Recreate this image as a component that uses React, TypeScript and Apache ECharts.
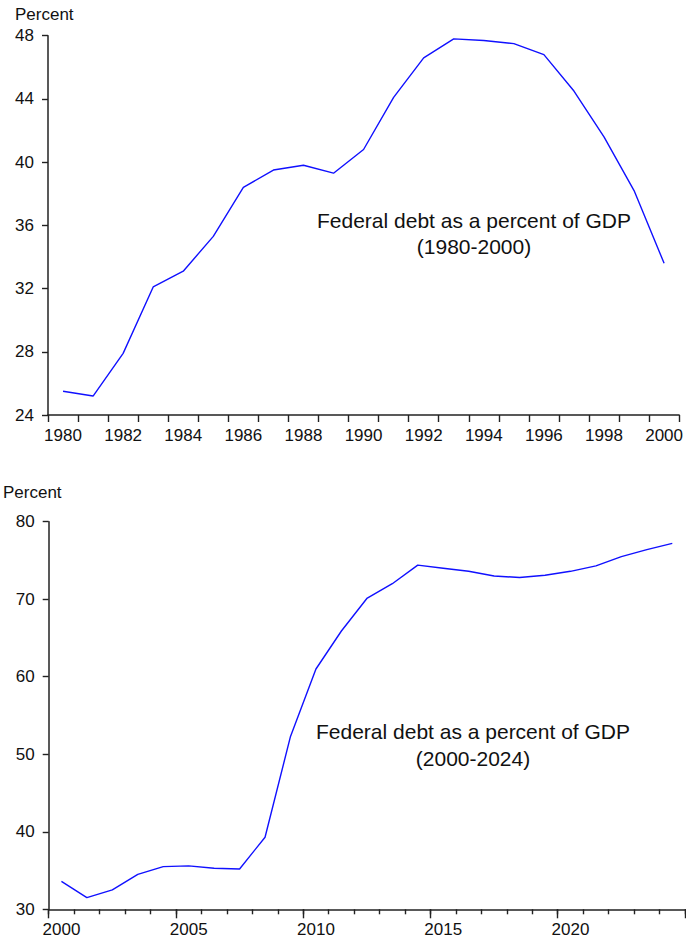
import React, { useEffect, useRef } from "react";
import * as echarts from "echarts";

const years1 = ["1980","1981","1982","1983","1984","1985","1986","1987","1988","1989","1990","1991","1992","1993","1994","1995","1996","1997","1998","1999","2000"];
const debt1 = [25.5,25.2,27.9,32.1,33.1,35.3,38.4,39.5,39.8,39.3,40.8,44.1,46.6,47.8,47.7,47.5,46.8,44.5,41.6,38.2,33.6];

const years2 = ["2000","2001","2002","2003","2004","2005","2006","2007","2008","2009","2010","2011","2012","2013","2014","2015","2016","2017","2018","2019","2020","2021","2022","2023","2024"];
const debt2 = [33.6,31.5,32.5,34.5,35.5,35.6,35.3,35.2,39.3,52.3,61.0,65.9,70.1,72.0,74.4,74.0,73.6,73.0,72.8,73.1,73.6,74.3,75.5,76.4,77.2];

const unitLabel = "Percent";
const note1 = "Federal debt as a percent of GDP\n(1980-2000)";
const note2 = "Federal debt as a percent of GDP\n(2000-2024)";

const FONT = "'Liberation Sans', Arial, sans-serif";
const AX = "#222";

export default function App() {
  const ref = useRef<HTMLDivElement>(null);
  useEffect(() => {
    const chart = echarts.init(ref.current!, null, { renderer: "svg" });
    const axisLabel = { color: "#111", fontSize: 17, fontFamily: FONT };
    chart.setOption({
      animation: false,
      grid: [
        { left: 48, top: 35.7, width: 632, height: 379.3 },
        { left: 48.7, top: 521.7, width: 636.3, height: 387.6 },
      ],
      xAxis: [
        {
          type: "category", gridIndex: 0, data: years1, boundaryGap: true,
          axisLine: { show: true, lineStyle: { color: AX, width: 1.5 } },
          axisTick: { show: true, inside: false, interval: 0, length: 7, lineStyle: { color: AX, width: 1.4 } },
          axisLabel: { ...axisLabel, interval: 1, margin: 12 },
          splitLine: { show: false },
        },
        {
          type: "category", gridIndex: 1, data: years2, boundaryGap: true,
          axisLine: { show: true, lineStyle: { color: AX, width: 1.5 } },
          axisTick: { show: true, inside: false, interval: 4, length: 9, lineStyle: { color: AX, width: 1.4 } },
          axisLabel: { ...axisLabel, interval: 4, margin: 12 },
          splitLine: { show: false },
        },
        {
          type: "category", gridIndex: 1, data: years2, boundaryGap: true, position: "bottom",
          axisLine: { show: false },
          axisTick: { show: true, inside: false, interval: 0, length: 5, lineStyle: { color: AX, width: 1.4 } },
          axisLabel: { show: false },
          splitLine: { show: false },
        },
      ],
      yAxis: [
        {
          type: "value", gridIndex: 0, min: 24, max: 48, interval: 4,
          axisLine: { show: true, lineStyle: { color: AX, width: 1.5 } },
          axisTick: { show: true, inside: false, length: 6, lineStyle: { color: AX, width: 1.4 } },
          axisLabel: { ...axisLabel, margin: 14 },
          splitLine: { show: false },
        },
        {
          type: "value", gridIndex: 1, min: 30, max: 80, interval: 10,
          axisLine: { show: true, lineStyle: { color: AX, width: 1.5 } },
          axisTick: { show: true, inside: false, length: 6, lineStyle: { color: AX, width: 1.4 } },
          axisLabel: { ...axisLabel, margin: 14 },
          splitLine: { show: false },
        },
      ],
      series: [
        {
          type: "line", xAxisIndex: 0, yAxisIndex: 0, data: debt1,
          showSymbol: false, symbol: "none",
          lineStyle: { color: "#1010ff", width: 1.4 },
        },
        {
          type: "line", xAxisIndex: 1, yAxisIndex: 1, data: debt2,
          showSymbol: false, symbol: "none",
          lineStyle: { color: "#1010ff", width: 1.4 },
        },
      ],
      graphic: [
        { type: "text", left: 15, top: 6, style: { text: unitLabel, fontSize: 17, fontFamily: FONT, fill: "#111" } },
        { type: "text", left: 3, top: 484, style: { text: unitLabel, fontSize: 17, fontFamily: FONT, fill: "#111" } },
        {
          type: "text", x: 474, y: 207,
          style: { text: note1, fontSize: 21, fontFamily: FONT, fill: "#111", align: "center", verticalAlign: "top", lineHeight: 26 },
        },
        {
          type: "text", x: 473, y: 718,
          style: { text: note2, fontSize: 21, fontFamily: FONT, fill: "#111", align: "center", verticalAlign: "top", lineHeight: 27 },
        },
      ],
    });
    return () => chart.dispose();
  }, []);
  return (
    <div
      ref={ref}
      style={{ position: "fixed", left: 0, top: 0, width: 686, height: 941, background: "#fff" }}
    />
  );
}
